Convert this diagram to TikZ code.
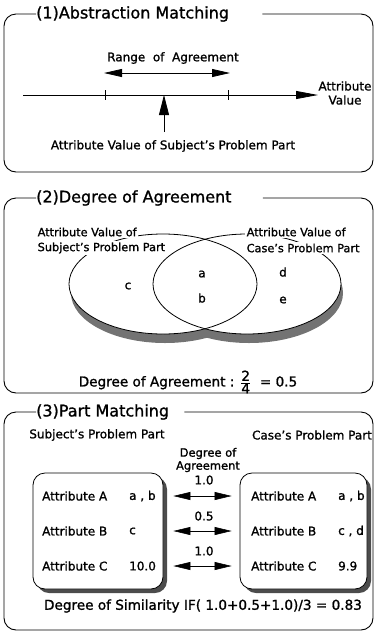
\documentclass[tikz,border=0pt]{standalone}
\usepackage{fontspec}
\setmainfont{DejaVu Sans}[FakeBold=1.2]
\usetikzlibrary{arrows.meta,shadows,shapes.geometric}

\begin{document}
\begin{tikzpicture}[
    x=1pt, y=-1pt,
    frame/.style={
        line width=0.9pt,
        rounded corners=12pt
    },
    title/.style={
        font=\fontsize{16}{18}\selectfont,
        anchor=west,
        inner sep=0pt
    },
    txt/.style={
        font=\fontsize{12}{14}\selectfont,
        inner sep=1pt,
        align=center
    },
    bigtxt/.style={
        txt,
        font=\fontsize{13.6}{15}\selectfont
    },
    setlabel/.style={
        txt,
        font=\fontsize{11.3}{13}\selectfont,
        fill=white,
        inner sep=1.5pt
    },
    set/.style={
        ellipse,
        draw=black,
        line width=0.8pt,
        minimum width=188pt,
        minimum height=100pt
    },
    attbox/.style={
        rectangle,
        draw=black,
        fill=white,
        line width=0.8pt,
        rounded corners=12pt,
        minimum height=116pt,
        drop shadow={shadow xshift=4pt, shadow yshift=-4pt, fill=black!70, opacity=1}
    },
    bigarrow/.style={{Triangle[length=18pt,width=8pt]}-{Triangle[length=18pt,width=8pt]}, line width=0.8pt},
    axisarrow/.style={-{Triangle[length=22pt,width=8pt]}, line width=0.8pt},
    uparrow/.style={-{Triangle[length=20pt,width=10pt]}, line width=0.8pt},
    dblarrow/.style={{Triangle[length=17pt,width=8pt]}-{Triangle[length=17pt,width=8pt]}, line width=0.6pt},
]
\useasboundingbox (0,0) rectangle (375,633);

% === (1) ABSTRACTION MATCHING ===
\node[title] (t1) at (36,14) {(1)Abstraction Matching};
\draw[frame] ([xshift=33pt]t1.east) -| (373,172) -| (4,14) -- (t1.west);

\coordinate (axL) at (23,95);
\coordinate (axR) at (318,95);
\draw[axisarrow] (axL) -- (axR);
\node[txt] (attval) at (345,93) {Attribute\\Value};

\coordinate (lo) at (105,95);
\coordinate (hi) at (228,95);
\draw[line width=0.8pt] (lo) ++(0,-5) -- ++(0,10);
\draw[line width=0.8pt] (hi) ++(0,-5) -- ++(0,10);

\node[txt] (range) at (173,58) {Range\ \ of\ \ Agreement};
\coordinate (rl) at (104,73);
\coordinate (rr) at (230,73);
\draw[bigarrow] (rl) -- (rr);

\node[txt] (subjval) at (173,146) {Attribute Value of Subject's Problem Part};
\coordinate (pv) at (164,95);
\coordinate (pvb) at (164,132);
\draw[uparrow] (pvb) -- (pv);

% === (2) DEGREE OF AGREEMENT ===
\node[title] (t2) at (36,198) {(2)Degree of Agreement};
\draw[frame] ([xshift=31pt]t2.east) -| (373,393) -| (4,198) -- (t2.west);

% shadow, then white, then outlines
\fill[black!55] (165,293) ellipse [x radius=94, y radius=50];
\fill[black!55] (249,293) ellipse [x radius=94, y radius=50];
\fill[white] (163,284) ellipse [x radius=94, y radius=50];
\fill[white] (247,284) ellipse [x radius=94, y radius=50];
\node[set] (subjset) at (163,284) {};
\node[set] (caseset) at (247,284) {};

\node[setlabel, anchor=west] (sl1) at (36,232) {Attribute Value of};
\node[setlabel, anchor=west] (sl2) at (36,248) {Subject's Problem Part};
\node[setlabel, anchor=west] (cl1) at (245,232) {Attribute Value of};
\node[setlabel, anchor=west] (cl2) at (245,248) {Case's Problem Part};

\node[txt] (ea) at (202,274) {a};
\node[txt] (eb) at (202,298) {b};
\node[txt] (ec) at (128,286) {c};
\node[txt] (ed) at (283,272) {d};
\node[txt] (ee) at (283,300) {e};

\node[bigtxt] (agree) at (188,382) {Degree of Agreement : $\frac{\mbox{2}}{\mbox{4}}$\ \ = 0.5};

% === (3) PART MATCHING ===
\node[title] (t3) at (36,412) {(3)Part Matching};
\draw[frame] ([xshift=15pt]t3.east) -| (373,630) -| (4,412) -- (t3.west);

\node[txt] (subjpart) at (97,435) {Subject's Problem Part};
\node[txt] (casepart) at (312,435) {Case's Problem Part};
\node[txt, font=\fontsize{11.5}{13}\selectfont] (doa) at (208,460) {Degree of\\Agreement};

\node[attbox, minimum width=130pt] (lbox) at (98,531) {};
\node[attbox, minimum width=127pt] (rbox) at (303.5,531) {};

\foreach \r/\y/\lv/\rv/\d/\dy in {A/496/{a , b}/{a , b}/1.0/480, B/531/c/{c , d}/0.5/516, C/566/10.0/9.9/1.0/551} {
    \node[txt, anchor=west] (l\r) at (41,\y) {Attribute \r};
    \node[txt, anchor=west] (lv\r) at (128,\y) {\lv};
    \node[txt, anchor=west] (r\r) at (250,\y) {Attribute \r};
    \node[txt, anchor=west] (rv\r) at (337,\y) {\rv};
    \node[txt] (d\r) at (204,\dy) {\d};
    \draw[dblarrow, shorten <=10pt, shorten >=8pt] (lbox.east |- l\r) -- (rbox.west |- l\r);
}

\node[bigtxt] (sim) at (203,606) {Degree of Similarity IF( 1.0+0.5+1.0)/3 = 0.83};

\end{tikzpicture}
\end{document}
